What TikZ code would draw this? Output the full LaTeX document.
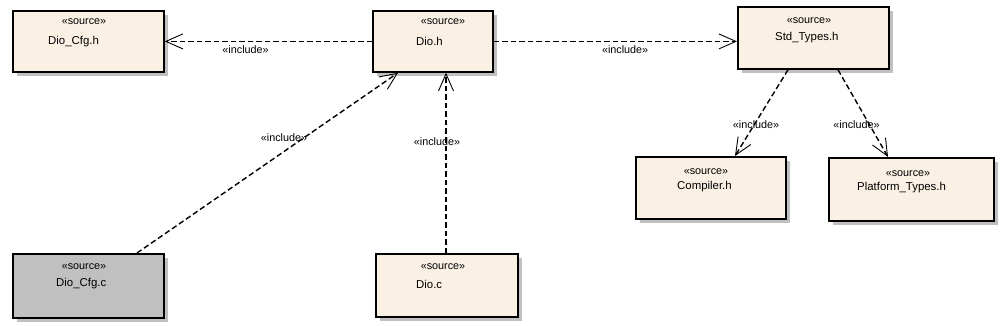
\documentclass[tikz,border=0pt]{standalone}
\usepackage{fontspec}
\setmainfont{Liberation Sans}
\usetikzlibrary{arrows.meta,calc,shadows}

\definecolor{srcfill}{RGB}{250,241,228}
\definecolor{shadowgray}{RGB}{192,192,192}

\tikzset{
  srcbox/.style={draw, line width=1.8pt, fill=srcfill, anchor=north west, inner sep=0pt,
    drop shadow={shadow xshift=4pt, shadow yshift=-4pt, fill=shadowgray, opacity=1}},
  stereo/.style={font=\fontsize{10.8}{12}\selectfont, inner sep=0pt},
  fname/.style={font=\fontsize{11.4}{13}\selectfont, inner sep=0pt, anchor=west},
  incl/.style={line width=1.4pt, dash pattern=on 5.5pt off 3pt,
    -{Straight Barb[length=17pt,width=15pt,line width=0.9pt]}},
  lbl/.style={font=\fontsize{10.8}{12}\selectfont, inner sep=0pt, text=black}
}

\begin{document}
\begin{tikzpicture}[x=1pt, y=-1pt]

\useasboundingbox (0,0) rectangle (1006,326);

% source files
\node[srcbox, minimum width=151pt, minimum height=61pt] (cfgh) at (12,10) {};
\node[srcbox, minimum width=120pt, minimum height=61pt] (dioh) at (372,10) {};
\node[srcbox, minimum width=151pt, minimum height=62pt] (stdh) at (737,6) {};
\node[srcbox, minimum width=150pt, minimum height=62pt] (comph) at (635,156) {};
\node[srcbox, minimum width=165pt, minimum height=63pt] (plath) at (828,157) {};
\node[srcbox, minimum width=151pt, minimum height=64pt, fill=shadowgray] (cfgc) at (12,253) {};
\node[srcbox, minimum width=142pt, minimum height=63pt] (dioc) at (375,253) {};

% stereotypes and names
\node[stereo] at ($(cfgh.north west)+(72,12)$) {«source»};
\node[fname] at ($(cfgh.north west)+(36,32)$) {Dio\_Cfg.h};
\node[stereo] at ($(dioh.north west)+(71,12)$) {«source»};
\node[fname] at ($(dioh.north west)+(44,31)$) {Dio.h};
\node[stereo] at ($(stdh.north west)+(72,15)$) {«source»};
\node[fname] at ($(stdh.north west)+(38,32)$) {Std\_Types.h};
\node[stereo] at ($(comph.north west)+(71,16)$) {«source»};
\node[fname] at ($(comph.north west)+(42,31)$) {Compiler.h};
\node[stereo] at ($(plath.north west)+(80,17)$) {«source»};
\node[fname] at ($(plath.north west)+(29,31)$) {Platform\_Types.h};
\node[stereo] at ($(cfgc.north west)+(72,14)$) {«source»};
\node[fname] at ($(cfgc.north west)+(44,31)$) {Dio\_Cfg.c};
\node[stereo] at ($(dioc.north west)+(68,14)$) {«source»};
\node[fname] at ($(dioc.north west)+(41,31)$) {Dio.c};

% include dependencies
\draw[incl] (dioh.west) -- (cfgh.east)
  node[lbl, pos=0.61, yshift=-8.5pt] {«include»};
\draw[incl] (dioh.east) -- (stdh.west |- dioh.east)
  node[lbl, pos=0.54, yshift=-8pt] {«include»};
\draw[incl] ($(cfgc.north west)+(125,0)$) -- ($(dioh.south west)+(26,0)$)
  node[lbl, pos=0.64, xshift=-20pt] {«include»};
\draw[incl] ($(dioc.north west)+(71,0)$) -- ($(dioh.south west)+(74,0)$)
  node[lbl, pos=0.62, xshift=-9pt] {«include»};
\draw[incl] ($(stdh.south west)+(51,0)$) -- ($(comph.north west)+(100,0)$)
  node[lbl, pos=0.64, xshift=2pt] {«include»};
\draw[incl] ($(stdh.south west)+(101,0)$) -- ($(plath.north west)+(60,0)$)
  node[lbl, pos=0.63, xshift=-13pt] {«include»};

\end{tikzpicture}
\end{document}
